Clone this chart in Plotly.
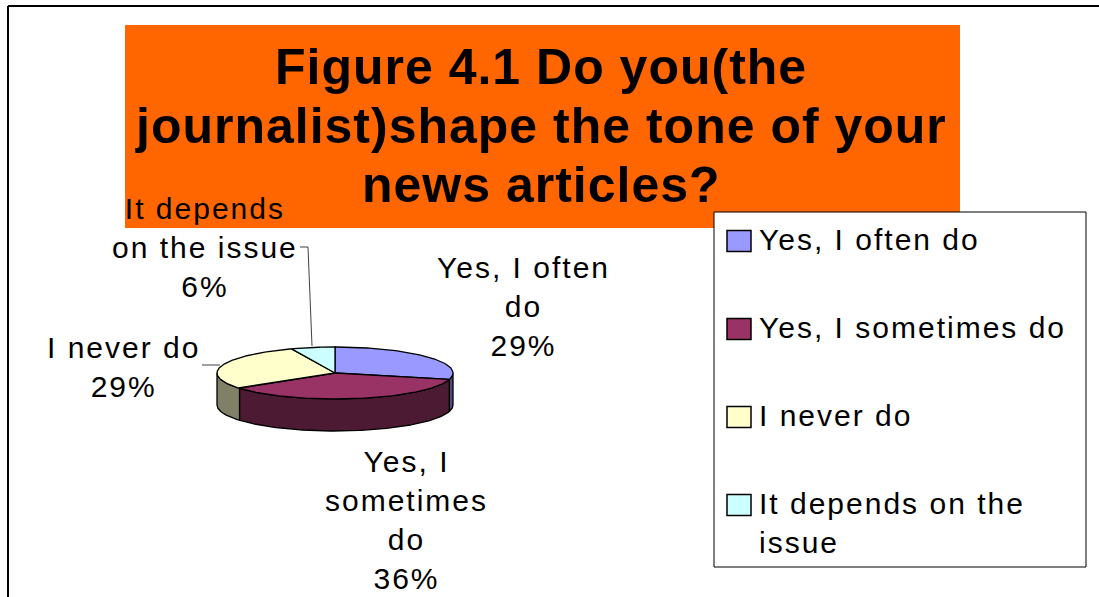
import numpy as np
import plotly.graph_objects as go

# ---- data ----
categories = ["Yes, I often do", "Yes, I sometimes do", "I never do", "It depends on the issue"]
values = [29, 36, 29, 6]
slice_labels = [["Yes, I often", "do"], ["Yes, I", "sometimes", "do"], ["I never do"], ["It depends", "on the issue"]]
legend_labels = [["Yes, I often do"], ["Yes, I sometimes do"], ["I never do"], ["It depends on the", "issue"]]
title_lines = ["Figure 4.1 Do you(the", "journalist)shape the tone of your", "news articles?"]

# ---- style ----
top_colors = ["#9999FF", "#993366", "#FFFFCC", "#CCFFFF"]
side_colors = ["#4D4D80", "#4C1A33", "#808066", "#668080"]
FONT = "Liberation Sans, Arial, sans-serif"
W, H = 1099, 597

# pie geometry (pixel units)
cx, cy, rx, ry, depth = 335, 373, 118, 26, 32
label_pos = [(523, 306), (406, 520), (123, 367), (205, 247)]


def spaced(lines, px):
    return "<br>".join(f'<span style="letter-spacing:{px}px">{ln}</span>' for ln in lines)


fig = go.Figure()

total = sum(values)
fracs = [v / total for v in values]
bounds = np.concatenate([[0], np.cumsum(fracs) * 360])


def arc(a0, a1, dy=0.0):
    n = max(2, int(abs(a1 - a0)) + 2)
    t = np.radians(np.linspace(a0, a1, n))
    return cx + rx * np.sin(t), cy - ry * np.cos(t) + dy


# side walls (front half only, 90..270 deg clockwise from top)
for i in range(len(values)):
    lo, hi = max(bounds[i], 90), min(bounds[i + 1], 270)
    if lo < hi:
        xt, yt = arc(lo, hi)
        xb, yb = arc(hi, lo, depth)
        fig.add_trace(go.Scatter(
            x=np.concatenate([xt, xb, xt[:1]]), y=np.concatenate([yt, yb, yt[:1]]),
            mode="lines", fill="toself", fillcolor=side_colors[i],
            line=dict(color="black", width=1.3), hoverinfo="skip", showlegend=False))

# top faces
for i in range(len(values)):
    xa, ya = arc(bounds[i], bounds[i + 1])
    fig.add_trace(go.Scatter(
        x=np.concatenate([[cx], xa, [cx]]), y=np.concatenate([[cy], ya, [cy]]),
        mode="lines", fill="toself", fillcolor=top_colors[i],
        line=dict(color="black", width=1.3), name=categories[i],
        hoverinfo="skip", showlegend=False))

shapes = []
# outer frame
shapes.append(dict(type="line", x0=8, y0=6, x1=8, y1=H, line=dict(color="black", width=2)))
shapes.append(dict(type="line", x0=8, y0=6, x1=W, y1=6, line=dict(color="black", width=2)))
# title box
shapes.append(dict(type="rect", x0=125, y0=25, x1=960, y1=228, fillcolor="#FF6600",
                   line=dict(width=0), layer="below"))
# leader lines
shapes.append(dict(type="path", path="M 300 247 L 308 247 L 312 346",
                   line=dict(color="#404040", width=1)))
shapes.append(dict(type="line", x0=202, y0=365, x1=220, y1=365,
                   line=dict(color="#404040", width=1)))
# legend box
shapes.append(dict(type="rect", x0=714, y0=212, x1=1086, y1=567, fillcolor="white",
                   line=dict(color="black", width=1), layer="below"))

annotations = []
# title
for t, yy in zip(title_lines, [67, 126, 185]):
    annotations.append(dict(x=541, y=yy, xref="x", yref="y", text="<b>" + spaced([t], 1) + "</b>",
                            showarrow=False, xanchor="center", yanchor="middle",
                            font=dict(family=FONT, size=50, color="black")))
# slice labels
for i in range(len(values)):
    pct = round(fracs[i] * 100)
    annotations.append(dict(x=label_pos[i][0], y=label_pos[i][1], xref="x", yref="y",
                            text=spaced(slice_labels[i] + [f"{pct}%"], 2), showarrow=False,
                            xanchor="center", yanchor="middle", align="center",
                            font=dict(family=FONT, size=30, color="black")))
# legend entries
leg_y = [241, 329, 417, 505]
for i in range(len(values)):
    shapes.append(dict(type="rect", x0=727, y0=leg_y[i] - 10.5, x1=751, y1=leg_y[i] + 10.5,
                       fillcolor=top_colors[i], line=dict(color="black", width=1.5)))
    annotations.append(dict(x=757, y=leg_y[i] - 20, xref="x", yref="y", text=spaced(legend_labels[i], 2),
                            showarrow=False, xanchor="left", yanchor="top", align="left",
                            font=dict(family=FONT, size=30, color="black")))

fig.update_layout(
    width=W, height=H, margin=dict(l=0, r=0, t=0, b=0),
    paper_bgcolor="white", plot_bgcolor="white",
    xaxis=dict(range=[0, W], visible=False, fixedrange=True),
    yaxis=dict(range=[H, 0], visible=False, fixedrange=True),
    shapes=shapes, annotations=annotations, showlegend=False,
)

fig.write_html("out.html", config={"displayModeBar": False},
               post_script="document.body.style.margin='0';document.body.style.overflow='hidden';")
